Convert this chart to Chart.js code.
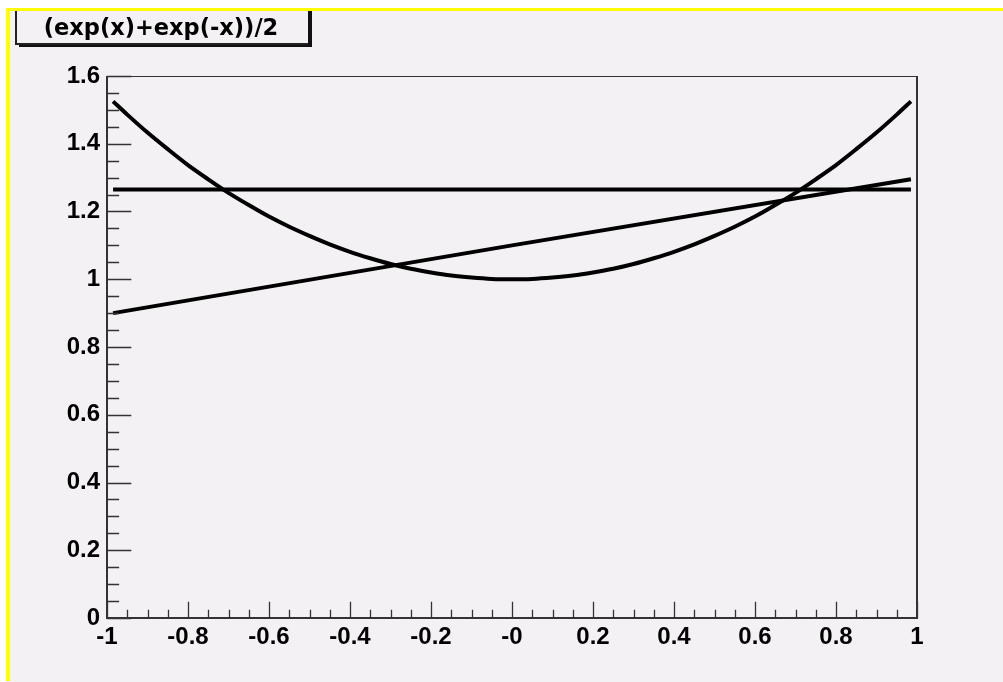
<!DOCTYPE html>
<html>
<head>
<meta charset="utf-8">
<script src="https://cdn.jsdelivr.net/npm/chart.js@4.4.1/dist/chart.umd.min.js"></script>
<style>
  html, body { margin: 0; padding: 0; background: #ffffff; }
  #c { display: block; }
</style>
</head>
<body>
<canvas id="c" width="1003" height="682"></canvas>
<script>
// Function title shown in the pave box
const titleText = '(exp(x)+exp(-x))/2';

// Sample abscissae of the curves
const xCurve = [-0.985, -0.95, -0.9, -0.85, -0.8, -0.75, -0.7, -0.65, -0.6, -0.55, -0.5,
                -0.45, -0.4, -0.35, -0.3, -0.25, -0.2, -0.15, -0.1, -0.05, 0,
                0.05, 0.1, 0.15, 0.2, 0.25, 0.3, 0.35, 0.4, 0.45, 0.5,
                0.55, 0.6, 0.65, 0.7, 0.75, 0.8, 0.85, 0.9, 0.95, 0.985];
// (exp(x)+exp(-x))/2
const yCosh = [1.525, 1.486, 1.433, 1.384, 1.337, 1.295, 1.255, 1.219, 1.185, 1.155, 1.128,
               1.103, 1.081, 1.062, 1.045, 1.031, 1.020, 1.011, 1.005, 1.001, 1.0,
               1.001, 1.005, 1.011, 1.020, 1.031, 1.045, 1.062, 1.081, 1.103, 1.128,
               1.155, 1.185, 1.219, 1.255, 1.295, 1.337, 1.384, 1.433, 1.486, 1.525];

// Horizontal level
const xFlat = [-0.985, 0.985];
const yFlat = [1.265, 1.265];

// Straight rising line
const xLine = [-0.985, 0, 0.985];
const yLine = [0.9, 1.1, 1.295];

// Axis tick labels
const xTickLabels = ['-1', '-0.8', '-0.6', '-0.4', '-0.2', '-0', '0.2', '0.4', '0.6', '0.8', '1'];
const yTickLabels = ['0', '0.2', '0.4', '0.6', '0.8', '1', '1.2', '1.4', '1.6'];

const pts = (xs, ys) => xs.map((x, i) => ({ x: x, y: ys[i] }));

const TITLE_FONT = '"DejaVu Sans", "Liberation Sans", sans-serif';
const TICK_FONT = '"Liberation Sans", Arial, sans-serif';
const PAD_COLOR = '#f4f1f4';

// Canvas background, yellow highlight border and the title pave
const backdrop = {
  id: 'backdrop',
  beforeDraw(chart) {
    const ctx = chart.ctx;
    const W = chart.width, H = chart.height;
    ctx.save();
    ctx.fillStyle = '#ffffff';
    ctx.fillRect(0, 0, W, H);
    ctx.fillStyle = PAD_COLOR;
    ctx.fillRect(6, 8, W - 6, H - 8);
    ctx.fillStyle = '#ffff00';
    ctx.fillRect(6, 8, W - 6, 3);
    ctx.fillRect(6, 8, 4, H - 9);

    // title pave with shadow
    ctx.fillStyle = '#111111';
    ctx.fillRect(19, 43, 293, 4);
    ctx.fillRect(308, 11, 4, 36);
    ctx.fillStyle = PAD_COLOR;
    ctx.fillRect(15, 11, 293, 33);
    ctx.strokeStyle = '#222222';
    ctx.lineWidth = 2;
    ctx.beginPath();
    ctx.moveTo(16, 11);
    ctx.lineTo(16, 44);
    ctx.lineTo(308, 44);
    ctx.stroke();
    ctx.fillStyle = '#000000';
    ctx.font = 'bold 22.5px ' + TITLE_FONT;
    ctx.textAlign = 'center';
    ctx.textBaseline = 'middle';
    ctx.fillText(titleText, 161, 29);
    ctx.restore();
  }
};

// Frame and inward-pointing major/minor ticks
const frameTicks = {
  id: 'frameTicks',
  afterDatasetsDraw(chart) {
    const ctx = chart.ctx;
    const a = chart.chartArea;
    const xs = chart.scales.x, ys = chart.scales.y;
    ctx.save();
    ctx.strokeStyle = '#333333';
    ctx.lineWidth = 1;
    ctx.strokeRect(a.left + 0.5, a.top + 0.5, a.right - a.left, a.bottom - a.top);
    ctx.lineWidth = 2;
    ctx.beginPath();
    ctx.moveTo(a.left, a.top);
    ctx.lineTo(a.left, a.bottom);
    ctx.lineTo(a.right, a.bottom);
    ctx.lineTo(a.right, a.top);
    ctx.stroke();

    const xMajor = 0.03 * (a.bottom - a.top);
    const yMajor = 0.03 * (a.right - a.left);
    ctx.lineWidth = 1.3;
    ctx.beginPath();
    for (let i = 0; i <= 40; i++) {
      const v = -1 + i * 0.05;
      const px = Math.round(xs.getPixelForValue(v)) + 0.5;
      const len = (i % 4 === 0) ? xMajor : xMajor / 2;
      ctx.moveTo(px, a.bottom);
      ctx.lineTo(px, a.bottom - len);
    }
    for (let i = 0; i <= 32; i++) {
      const v = i * 0.05;
      const py = Math.round(ys.getPixelForValue(v)) + 0.5;
      const len = (i % 4 === 0) ? yMajor : yMajor / 2;
      ctx.moveTo(a.left, py);
      ctx.lineTo(a.left + len, py);
    }
    ctx.stroke();
    ctx.restore();
  }
};

const lineStyle = {
  borderColor: '#000000',
  borderWidth: 4,
  pointRadius: 0,
  fill: false
};

new Chart(document.getElementById('c'), {
  type: 'line',
  data: {
    datasets: [
      Object.assign({ label: 'cosh', data: pts(xCurve, yCosh), tension: 0.3 }, lineStyle),
      Object.assign({ label: 'flat', data: pts(xFlat, yFlat), tension: 0 }, lineStyle),
      Object.assign({ label: 'line', data: pts(xLine, yLine), tension: 0 }, lineStyle)
    ]
  },
  options: {
    responsive: false,
    animation: false,
    devicePixelRatio: 1,
    layout: { padding: { left: 0, top: 76, right: 86, bottom: 0 } },
    plugins: {
      legend: { display: false },
      tooltip: { enabled: false },
      title: { display: false }
    },
    scales: {
      x: {
        type: 'linear',
        min: -1,
        max: 1,
        grid: { display: false, drawTicks: false },
        border: { display: false },
        afterFit: (s) => { s.height = 64; },
        ticks: {
          stepSize: 0.2,
          autoSkip: false,
          maxRotation: 0,
          padding: 5,
          color: '#000000',
          font: { family: TICK_FONT, size: 24, weight: 'bold' },
          callback: (v, i) => xTickLabels[i]
        }
      },
      y: {
        type: 'linear',
        min: 0,
        max: 1.6,
        grid: { display: false, drawTicks: false },
        border: { display: false },
        afterFit: (s) => { s.width = 107; },
        ticks: {
          stepSize: 0.2,
          autoSkip: false,
          padding: 7,
          color: '#000000',
          font: { family: TICK_FONT, size: 24, weight: 'bold' },
          callback: (v, i) => yTickLabels[i]
        }
      }
    }
  },
  plugins: [backdrop, frameTicks]
});
</script>
</body>
</html>
